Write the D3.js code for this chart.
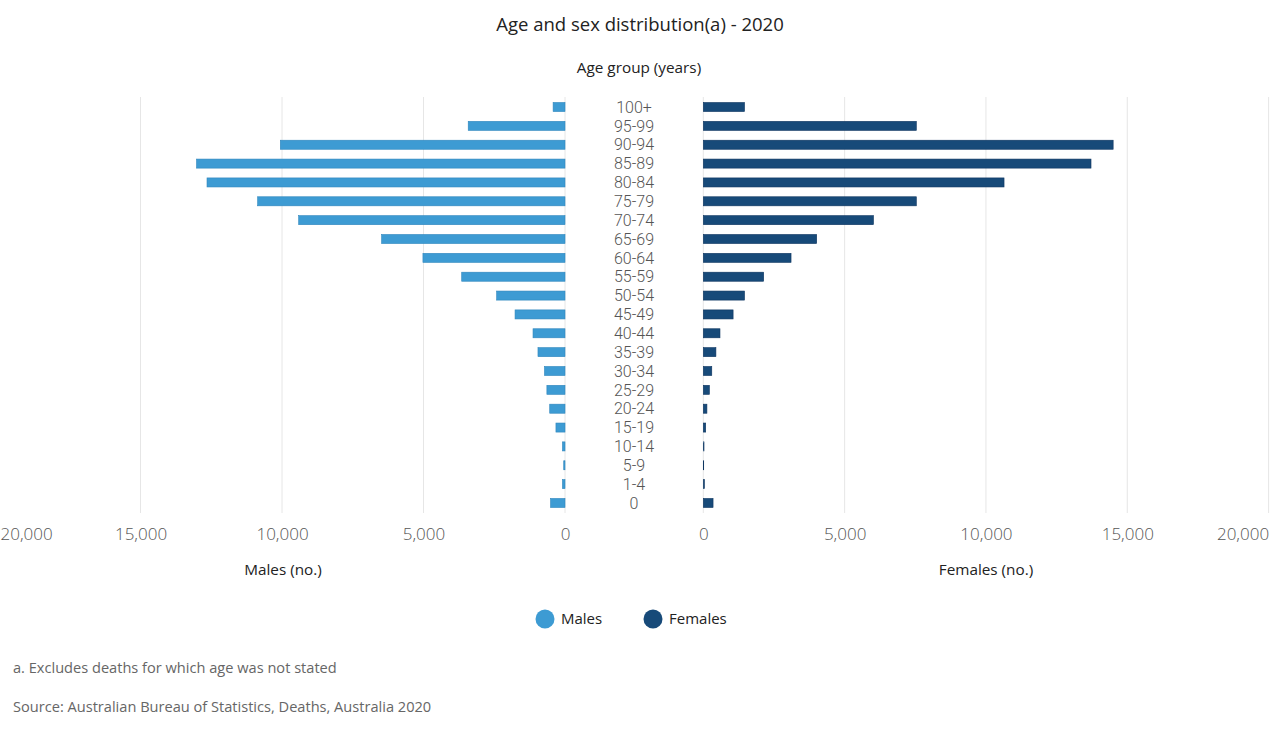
<!DOCTYPE html>
<html><head><meta charset="utf-8">
<script src="https://cdn.jsdelivr.net/npm/d3@7"></script>
<style>
body{margin:0;background:#fff;}
svg{display:block;font-family:"Open Sans","Noto Sans",sans-serif;}
</style></head><body>
<svg id="c" width="1280" height="737"></svg>
<script>
const ageGroups = ["100+","95-99","90-94","85-89","80-84","75-79","70-74","65-69","60-64","55-59","50-54","45-49","40-44","35-39","30-34","25-29","20-24","15-19","10-14","5-9","1-4","0"];
const males   = [420,3420,10060,13020,12650,10860,9410,6480,5020,3650,2415,1765,1130,955,725,640,540,320,90,45,90,510];
const females = [1458,7536,14500,13717,10640,7536,6020,4012,3104,2136,1458,1054,590,446,300,215,128,85,25,15,40,345];
const tickValues = [0,5000,10000,15000,20000];
const seriesNames = ["Males","Females"];
const colors = {Males:"#3d9bd3", Females:"#174a79"};

const svg = d3.select("#c");
const xL = d3.scaleLinear().domain([0,20000]).range([565,-1]);
const xR = d3.scaleLinear().domain([0,20000]).range([703.3,1268.6]);
const y = d3.scaleBand().domain(ageGroups).range([97.6,512.4]).paddingInner(0.52).paddingOuter(0.26);
const fmt = d3.format(",");

// gridlines
const grid = svg.append("g");
[xL,xR].forEach(s=>{
  grid.selectAll(null).data(tickValues).enter().append("line")
    .attr("x1",d=>s(d)).attr("x2",d=>s(d)).attr("y1",97).attr("y2",513)
    .attr("stroke","#e6e6e6").attr("stroke-width",1);
});

// bars
svg.append("g").selectAll("rect").data(ageGroups).enter().append("rect")
  .attr("x",(d,i)=>xL(males[i])).attr("width",(d,i)=>xL(0)-xL(males[i]))
  .attr("y",d=>y(d)).attr("height",y.bandwidth())
  .attr("fill",colors.Males).attr("stroke","#2f86bd").attr("stroke-width",0.6);
svg.append("g").selectAll("rect").data(ageGroups).enter().append("rect")
  .attr("x",xR(0)).attr("width",(d,i)=>xR(females[i])-xR(0))
  .attr("y",d=>y(d)).attr("height",y.bandwidth())
  .attr("fill",colors.Females).attr("stroke","#0e3560").attr("stroke-width",0.6);

// category labels
svg.append("g").selectAll("text").data(ageGroups).enter().append("text")
  .attr("x",634).attr("y",d=>y(d)+y.bandwidth()/2).attr("dy","0.36em")
  .attr("text-anchor","middle").attr("font-size",16).attr("font-weight",300)
  .attr("font-family","Roboto,'Liberation Sans',sans-serif")
  .attr("fill","#555").text(d=>d);

// axes
function styleAxis(g){
  g.select(".domain").remove();
  g.selectAll("line").remove();
  g.selectAll("text").attr("font-size",17).attr("font-weight",300).attr("fill","#555")
    .attr("font-family","'Open Sans','Noto Sans',sans-serif");
}
const axL = svg.append("g").attr("transform","translate(0,528)")
  .call(d3.axisBottom(xL).tickValues(tickValues).tickFormat(fmt).tickSize(0).tickPadding(0));
styleAxis(axL);
axL.selectAll(".tick").filter(d=>d===20000).select("text").attr("text-anchor","start").attr("x",1);
const axR = svg.append("g").attr("transform","translate(0,528)")
  .call(d3.axisBottom(xR).tickValues(tickValues).tickFormat(fmt).tickSize(0).tickPadding(0));
styleAxis(axR);
axR.selectAll(".tick").filter(d=>d===20000).select("text").attr("text-anchor","end").attr("x",0);

// titles
svg.append("text").attr("x",640).attr("y",31).attr("text-anchor","middle")
  .attr("font-size",18.5).attr("fill","#222").text("Age and sex distribution(a) - 2020");
svg.append("text").attr("x",639).attr("y",73).attr("text-anchor","middle")
  .attr("font-size",15.3).attr("fill","#222").text("Age group (years)");
svg.append("text").attr("x",283).attr("y",575).attr("text-anchor","middle")
  .attr("font-size",15.3).attr("fill","#222").text("Males (no.)");
svg.append("text").attr("x",986).attr("y",575).attr("text-anchor","middle")
  .attr("font-size",15.3).attr("fill","#222").text("Females (no.)");

// legend
const legX = [545,653];
const leg = svg.append("g").selectAll("g").data(seriesNames).enter().append("g")
  .attr("transform",(d,i)=>`translate(${legX[i]},619)`);
leg.append("circle").attr("r",9.5).attr("fill",d=>colors[d]);
leg.append("text").attr("x",16).attr("dy","0.35em").attr("font-size",15).attr("fill","#222").text(d=>d);

// footnotes
svg.append("text").attr("x",13).attr("y",673).attr("font-size",14.6).attr("fill","#666")
  .text("a. Excludes deaths for which age was not stated");
svg.append("text").attr("x",13).attr("y",712).attr("font-size",14.6).attr("fill","#666")
  .text("Source: Australian Bureau of Statistics, Deaths, Australia 2020");
</script></body></html>
